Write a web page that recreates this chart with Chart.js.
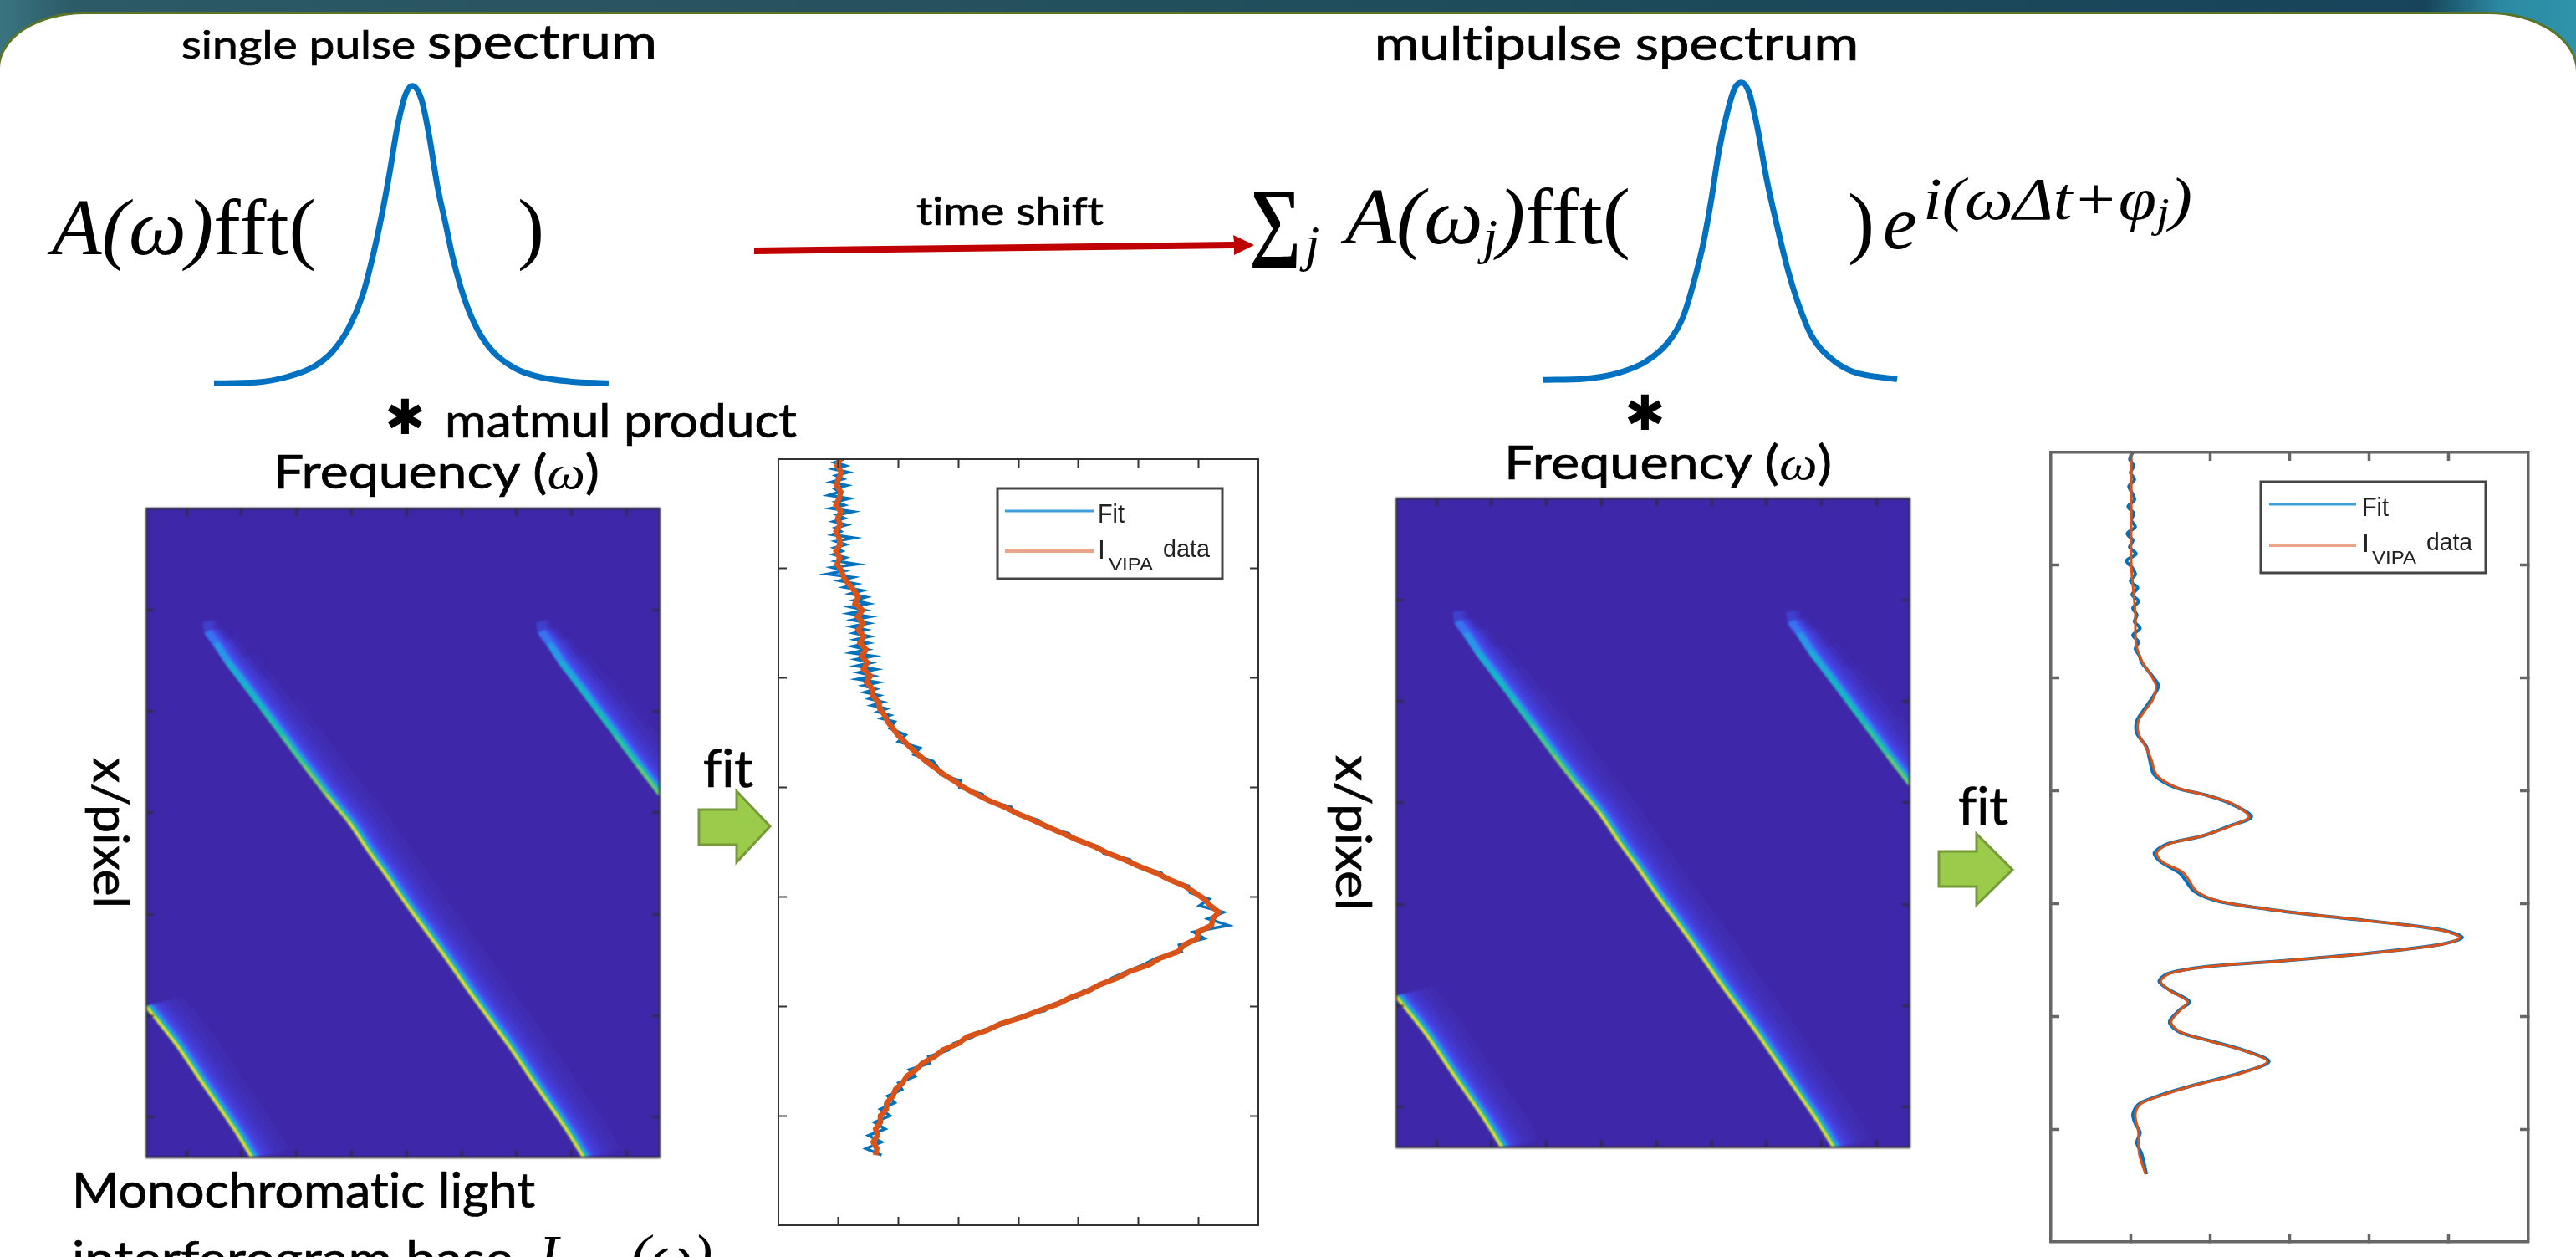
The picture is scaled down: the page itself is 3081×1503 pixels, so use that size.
<!DOCTYPE html>
<html>
<head>
<meta charset="utf-8">
<title>Single pulse and multipulse spectrum</title>
<script src="https://cdn.jsdelivr.net/npm/chart.js@4"></script>
<style>
    html, body { margin: 0; padding: 0; width: 3081px; height: 1503px; overflow: hidden; background: #fff; }
    #band { position: absolute; left: 0; top: 0; width: 3081px; height: 110px;
        background: linear-gradient(90deg, #3a7481 0, #2c5a66 90px, #28525e 900px, #1d4a5a 2000px, #17445a 2900px, #2b8aa2 2990px, #2f93aa 3081px); }
    #panel { position: absolute; left: -3px; top: 14px; width: 3081px; height: 1600px; background: #fff;
        border: 3px solid #5a7525; border-radius: 104px 108px 0 0 / 68px 72px 0 0; }
    canvas { position: absolute; }
    #heatLeft, #heatRight { filter: blur(0.9px); }
    #fitLeft, #fitRight { filter: blur(0.5px); }
    #slide { position: absolute; left: 0; top: 0; font-variant-ligatures: none; }
    .sans { font-family: Lato, "Open Sans", sans-serif; fill: #000; stroke: #000; stroke-width: 0.7px; }
    .math { font-family: "Liberation Serif", serif; font-style: italic; fill: #000; stroke: none; }
    .roman { font-style: normal; }
    .legend { font-family: "Liberation Sans", Arial, sans-serif; fill: #222; filter: blur(0.5px); }
</style>
</head>
<body>
<div id="band"></div>
<div id="panel"></div>

<canvas id="pulseLeft" width="490" height="377" style="left:246px;top:92px"></canvas>
<canvas id="pulseRight" width="490" height="377" style="left:1836px;top:88px"></canvas>
<canvas id="heatLeft" width="618" height="780" style="left:173px;top:606px"></canvas>
<canvas id="heatRight" width="618" height="780" style="left:1668px;top:594px"></canvas>
<canvas id="fitLeft" width="578" height="920" style="left:929px;top:547px"></canvas>
<canvas id="fitRight" width="575" height="948" style="left:2451px;top:539px"></canvas>

<svg id="slide" width="3081" height="1503" viewBox="0 0 3081 1503">
    <text class="sans" x="217" y="70" textLength="569" lengthAdjust="spacingAndGlyphs"><tspan font-size="46">single pulse </tspan><tspan font-size="56">spectrum</tspan></text>
    <text class="sans" x="1644" y="72" font-size="56" textLength="579" lengthAdjust="spacingAndGlyphs">multipulse spectrum</text>
    <text class="sans" x="1096" y="269" font-size="46" textLength="224" lengthAdjust="spacingAndGlyphs">time shift</text>

    <text class="math" x="62" y="304" font-size="96" textLength="316" lengthAdjust="spacingAndGlyphs">A(ω)<tspan class="roman">fft(</tspan></text>
    <text class="math roman" x="619" y="304" font-size="96">)</text>

    <text class="math roman" x="1494" y="298" font-size="104" textLength="62" lengthAdjust="spacingAndGlyphs" style="font-weight:bold">∑</text>
    <text class="math" x="1561" y="312" font-size="62">j</text>
    <text class="math" x="1609" y="291" font-size="96" textLength="341" lengthAdjust="spacingAndGlyphs">A(ω<tspan font-size="60" dy="12">j</tspan><tspan dy="-12">)</tspan><tspan class="roman">fft(</tspan></text>
    <text class="math roman" x="2210" y="297" font-size="96">)</text>
    <text class="math" x="2252" y="297" font-size="92">e</text>
    <text class="math" x="2300" y="262" font-size="72" textLength="322" lengthAdjust="spacingAndGlyphs">i(ωΔt+φ<tspan font-size="50" dy="9">j</tspan><tspan dy="-9">)</tspan></text>

    <path d="M902 296 L1476 289 L1475 281 L1500 293 L1476 305 L1476 297 L902 304 Z" fill="#c00000"/>

    <text x="460" y="519" font-family="DejaVu Sans" font-size="58" fill="#000">✱</text>
    <text class="sans" x="532" y="523" font-size="56" textLength="421" lengthAdjust="spacingAndGlyphs">matmul product</text>
    <text x="1943" y="514" font-family="DejaVu Sans" font-size="58" fill="#000">✱</text>

    <text class="sans" x="327" y="584" font-size="56" textLength="390" lengthAdjust="spacingAndGlyphs">Frequency (<tspan class="math">ω</tspan>)</text>
    <text class="sans" x="1799" y="573" font-size="56" textLength="392" lengthAdjust="spacingAndGlyphs">Frequency (<tspan class="math">ω</tspan>)</text>

    <text class="sans" font-size="58" textLength="180" lengthAdjust="spacingAndGlyphs" transform="translate(112 906) rotate(90)">x/pixel</text>
    <text class="sans" font-size="58" textLength="186" lengthAdjust="spacingAndGlyphs" transform="translate(1598 903) rotate(90)">x/pixel</text>

    <text class="sans" x="841" y="941" font-size="62" textLength="60" lengthAdjust="spacingAndGlyphs">fit</text>
    <text class="sans" x="2342" y="986" font-size="62" textLength="60" lengthAdjust="spacingAndGlyphs">fit</text>
    <path d="M836 968 L881 968 L881 946 L921 988 L881 1031 L881 1010 L836 1010 Z" fill="#9bcb4b" stroke="#76993a" stroke-width="3"/>
    <path d="M2319 1018 L2364 1018 L2364 997 L2407 1040 L2364 1082 L2364 1060 L2319 1060 Z" fill="#9bcb4b" stroke="#76993a" stroke-width="3"/>

    <text class="sans" x="86" y="1444" font-size="58" textLength="554" lengthAdjust="spacingAndGlyphs">Monochromatic light</text>
    <text class="sans" x="86" y="1526" font-size="58" textLength="528" lengthAdjust="spacingAndGlyphs">interferogram base</text>
    <text class="math" x="644" y="1526" font-size="72">I<tspan font-size="42" dy="12">VIPA</tspan><tspan dy="-12" font-size="72">(ω)</tspan></text>

    <rect x="1193" y="584" width="269" height="108" fill="#fff" stroke="#444" stroke-width="3"/>
    <line x1="1202" y1="611" x2="1308" y2="611" stroke="#3f9fdc" stroke-width="3"/>
    <line x1="1202" y1="659" x2="1308" y2="659" stroke="#eba58a" stroke-width="4"/>
    <text class="legend" x="1313" y="625" font-size="32" textLength="32" lengthAdjust="spacingAndGlyphs">Fit</text>
    <text class="legend" x="1313" y="668" font-size="32">I</text>
    <text class="legend" x="1326" y="682" font-size="22" textLength="53" lengthAdjust="spacingAndGlyphs">VIPA</text>
    <text class="legend" x="1391" y="666" font-size="30" textLength="56" lengthAdjust="spacingAndGlyphs">data</text>

    <rect x="2704" y="576" width="269" height="109" fill="#fff" stroke="#444" stroke-width="3"/>
    <line x1="2714" y1="603" x2="2818" y2="603" stroke="#3f9fdc" stroke-width="3"/>
    <line x1="2714" y1="652" x2="2818" y2="652" stroke="#eba58a" stroke-width="4"/>
    <text class="legend" x="2825" y="617" font-size="32" textLength="32" lengthAdjust="spacingAndGlyphs">Fit</text>
    <text class="legend" x="2825" y="660" font-size="32">I</text>
    <text class="legend" x="2837" y="674" font-size="22" textLength="53" lengthAdjust="spacingAndGlyphs">VIPA</text>
    <text class="legend" x="2902" y="658" font-size="30" textLength="55" lengthAdjust="spacingAndGlyphs">data</text>
</svg>

<script>
    // pulse shapes drawn above the brackets
    const pulseLeftX = [-2.37, -1.87, -1.49, -1.17, -0.94, -0.75, -0.59, -0.47, -0.37, -0.27, -0.18, -0.08, 0, 0.11, 0.2, 0.3, 0.4, 0.49, 0.62, 0.78, 0.97, 1.22, 1.51, 1.89, 2.35];
    const pulseLeftY = [0, 0.003, 0.022, 0.057, 0.111, 0.191, 0.299, 0.428, 0.557, 0.708, 0.858, 0.971, 1, 0.955, 0.837, 0.665, 0.535, 0.417, 0.288, 0.181, 0.105, 0.052, 0.022, 0.006, 0];
    const pulseRightX = [-2.37, -1.88, -1.47, -1.15, -0.88, -0.7, -0.56, -0.45, -0.36, -0.27, -0.16, -0.08, 0, 0.09, 0.19, 0.3, 0.41, 0.55, 0.68, 0.84, 1.07, 1.32, 1.86];
    const pulseRightY = [0, 0.004, 0.024, 0.061, 0.126, 0.212, 0.341, 0.47, 0.61, 0.772, 0.912, 0.982, 1, 0.966, 0.847, 0.675, 0.535, 0.374, 0.255, 0.147, 0.072, 0.029, 0.002];

    // interferogram streaks (x, row, brightness 0-1)
    const streakMainX = [130, 133, 149, 171, 202, 237, 273, 313, 354, 395, 434, 465, 501, 562, 623, 684, 729, 790, 822];
    const streakMainY = [111, 121, 133, 151, 173, 198, 224, 253, 282, 309, 340, 363, 391, 436, 483, 528, 564, 612, 640];
    const streakMainLevel = [0.02, 0.16, 0.28, 0.38, 0.46, 0.56, 0.66, 0.76, 0.86, 0.94, 1, 1, 1, 1, 1, 1, 1, 1, 1];
    const streakRightX = [736, 739, 755, 777, 808, 843, 879, 919, 960];
    const streakRightY = [111, 121, 133, 151, 173, 198, 224, 253, 282];
    const streakRightLevel = [0.02, 0.16, 0.28, 0.38, 0.46, 0.54, 0.62, 0.72, 0.8];
    const streakLowX = [27, 81, 126, 187, 219];
    const streakLowY = [491, 528, 564, 612, 640];
    const streakLowLevel = [1, 1, 1, 1, 1];
    const heatTicksX = [100, 200, 300, 400, 500, 600, 700, 800, 900];
    const heatTicksY = [100, 200, 300, 400, 500, 600];

    // single pulse fit
    const fitLeftRows = [0, 6, 12, 18, 24, 30, 36, 42, 48, 54, 60, 66, 72, 78, 84, 90, 96, 102, 108, 114, 120, 126, 132, 138, 144, 150, 156, 162, 168, 174, 180, 186, 192, 198, 204, 210, 216, 222, 228, 234, 240, 246, 252, 258, 264, 270, 276, 282, 288, 294, 300, 306, 312, 318, 324, 330, 336, 342, 348, 354, 360, 366, 372, 378, 384, 390, 396, 402, 408, 414, 420, 426, 432, 438, 444, 450, 456, 462, 468, 474, 480, 486, 492, 498, 504, 510, 516, 522, 528, 534, 540, 546, 552, 558, 564, 570, 576, 582, 588, 594, 600, 606, 612, 618, 624, 630, 636];
    const fitLeftData = [1.03, 0.98, 1.05, 1.0, 0.97, 1.04, 1.01, 0.96, 1.04, 0.99, 1.03, 0.96, 1.01, 1.03, 0.96, 1.02, 0.98, 1.05, 1.09, 1.17, 1.26, 1.33, 1.28, 1.4, 1.32, 1.41, 1.33, 1.42, 1.36, 1.46, 1.39, 1.48, 1.42, 1.53, 1.47, 1.57, 1.57, 1.67, 1.69, 1.77, 1.82, 1.91, 1.99, 2.1, 2.21, 2.33, 2.46, 2.61, 2.75, 2.93, 3.09, 3.29, 3.51, 3.78, 3.99, 4.25, 4.49, 4.74, 4.99, 5.27, 5.49, 5.77, 6.01, 6.29, 6.51, 6.77, 6.94, 7.1, 7.2, 7.34, 7.24, 7.22, 7.0, 6.98, 6.76, 6.66, 6.36, 6.18, 5.86, 5.65, 5.36, 5.16, 4.87, 4.65, 4.34, 4.06, 3.7, 3.47, 3.14, 3.0, 2.74, 2.6, 2.4, 2.29, 2.14, 2.07, 1.95, 1.91, 1.81, 1.8, 1.7, 1.7, 1.62, 1.65, 1.58, 1.64, 1.62];
    const fitLeftFitRows = [0, 3, 6, 9, 12, 15, 18, 21, 24, 27, 30, 33, 36, 39, 42, 45, 48, 51, 54, 57, 60, 63, 66, 69, 72, 75, 78, 81, 84, 87, 90, 93, 96, 99, 102, 105, 108, 111, 114, 117, 120, 123, 126, 129, 132, 135, 138, 141, 144, 147, 150, 153, 156, 159, 162, 165, 168, 171, 174, 177, 180, 183, 186, 189, 192, 195, 198, 201, 204, 207, 210, 213, 216, 219, 222, 225, 228, 231, 234, 237, 240, 246, 252, 258, 264, 270, 276, 282, 288, 294, 300, 306, 312, 318, 324, 330, 336, 342, 348, 354, 360, 366, 372, 378, 384, 390, 396, 402, 408, 414, 420, 426, 432, 438, 444, 450, 456, 462, 468, 474, 480, 486, 492, 498, 504, 510, 516, 522, 528, 534, 540, 546, 552, 558, 564, 570, 576, 582, 588, 594, 600, 606, 612, 618, 624, 630, 636];
    const fitLeftFit = [1.08, 0.94, 1.12, 0.92, 1.16, 0.96, 1.08, 0.88, 1.14, 0.94, 1.02, 0.84, 1.18, 0.96, 1.1, 0.88, 1.24, 0.98, 1.1, 0.92, 1.14, 0.95, 1.04, 0.9, 1.26, 0.96, 1.12, 0.93, 1.06, 0.92, 1.12, 0.96, 1.3, 0.9, 1.1, 0.82, 1.24, 1.02, 1.3, 1.1, 1.4, 1.2, 1.46, 1.26, 1.5, 1.2, 1.44, 1.18, 1.52, 1.24, 1.5, 1.22, 1.46, 1.26, 1.52, 1.28, 1.5, 1.24, 1.48, 1.22, 1.58, 1.3, 1.54, 1.3, 1.62, 1.34, 1.58, 1.32, 1.66, 1.42, 1.62, 1.44, 1.68, 1.52, 1.74, 1.56, 1.8, 1.66, 1.86, 1.72, 1.94, 1.86, 2.12, 2.0, 2.36, 2.26, 2.58, 2.66, 2.7, 3.04, 3.02, 3.4, 3.48, 3.88, 3.96, 4.34, 4.44, 4.84, 4.94, 5.34, 5.42, 5.86, 5.96, 6.38, 6.46, 6.84, 6.86, 7.18, 7.02, 7.42, 7.16, 7.5, 6.92, 7.1, 6.68, 6.72, 6.3, 6.08, 5.82, 5.56, 5.42, 5.08, 4.96, 4.58, 4.44, 3.98, 3.8, 3.4, 3.24, 2.92, 2.84, 2.5, 2.52, 2.18, 2.28, 2.0, 2.06, 1.82, 1.94, 1.7, 1.86, 1.6, 1.78, 1.5, 1.72, 1.46, 1.72];
    const fitLeftTicksX = [1, 2, 3, 4, 5, 6, 7];
    const fitTicksY = [100, 200, 300, 400, 500, 600];

    // multipulse fit
    const fitRightRows = [0, 54, 100, 142, 170, 186, 198, 207, 219, 228, 238, 249, 261, 272, 286, 297, 304, 311, 323, 331, 340, 347, 355, 363, 373, 389, 398, 405, 412, 419, 424, 430, 436, 444, 451, 456, 462, 469, 477, 487, 494, 505, 514, 522, 530, 540, 550, 561, 571, 578, 587, 603, 622, 640];
    const fitRightData = [1.01, 1.01, 1.01, 1.06, 1.07, 1.15, 1.26, 1.32, 1.28, 1.19, 1.1, 1.1, 1.19, 1.26, 1.33, 1.58, 1.95, 2.27, 2.49, 2.27, 1.9, 1.49, 1.33, 1.4, 1.67, 1.83, 2.13, 2.73, 3.56, 4.47, 4.93, 5.14, 4.93, 4.01, 2.87, 1.95, 1.49, 1.38, 1.49, 1.72, 1.63, 1.51, 1.63, 2.0, 2.41, 2.72, 2.41, 1.81, 1.35, 1.12, 1.06, 1.1, 1.11, 1.19];
    const fitRightFitRows = [0, 6, 12, 18, 24, 30, 36, 42, 48, 54, 60, 66, 72, 78, 84, 90, 96, 102, 108, 114, 120, 126, 132, 138, 144, 150, 156, 162, 168, 174, 180, 186, 198, 207, 219, 228, 238, 249, 261, 272, 286, 297, 304, 311, 323, 331, 340, 347, 355, 363, 373, 389, 398, 405, 412, 419, 424, 430, 436, 444, 451, 456, 462, 469, 477, 487, 494, 505, 514, 522, 530, 540, 550, 561, 571, 578, 587, 595, 603, 612, 622, 640];
    const fitRightFit = [1.03, 0.99, 1.04, 1.0, 1.05, 0.98, 1.02, 1.05, 0.97, 1.04, 1.01, 1.06, 0.96, 1.03, 0.99, 1.07, 0.95, 1.02, 1.06, 1.0, 1.09, 1.02, 1.1, 1.03, 1.08, 1.05, 1.12, 1.03, 1.1, 1.06, 1.11, 1.14, 1.27, 1.35, 1.26, 1.17, 1.08, 1.08, 1.2, 1.24, 1.3, 1.56, 1.96, 2.25, 2.52, 2.25, 1.91, 1.47, 1.3, 1.38, 1.62, 1.8, 2.11, 2.73, 3.55, 4.48, 4.95, 5.17, 4.91, 4.0, 2.86, 1.94, 1.47, 1.36, 1.5, 1.74, 1.62, 1.49, 1.62, 2.02, 2.42, 2.74, 2.39, 1.8, 1.33, 1.1, 1.03, 1.06, 1.12, 1.08, 1.14, 1.2];
    const fitRightTicksX = [1, 2, 3, 4, 5];

    const heatBg = '#3e27a8';
    // glow is drawn as stacked strokes, first one on top, each fading in with the streak level
    const heatLayers = [
        { width: 2.8, shift: 0, color: [246, 226, 40], from: 0.8, to: 0.97 },
        { width: 3.6, shift: 0, color: [150, 204, 80], from: 0.68, to: 0.85 },
        { width: 4.5, shift: 0, color: [64, 200, 144], from: 0.55, to: 0.72 },
        { width: 5.5, shift: 1, color: [20, 188, 184], from: 0.36, to: 0.56 },
        { width: 6.5, shift: 2, color: [31, 168, 220], from: 0.24, to: 0.44 },
        { width: 8, shift: 3, color: [47, 144, 236], from: 0.14, to: 0.36 },
        { width: 10, shift: 4, color: [58, 112, 245], from: 0.06, to: 0.3 },
        { width: 13, shift: 6, color: [68, 80, 236], from: 0, to: 0.26 },
        { width: 17, shift: 8.5, color: [68, 65, 222], from: 0, to: 0.3 },
        { width: 22, shift: 12, color: [67, 57, 208], from: 0.1, to: 0.4 },
        { width: 28, shift: 15.5, color: [66, 51, 194], from: 0.2, to: 0.5 },
        { width: 36, shift: 20.5, color: [65, 47, 184], from: 0.3, to: 0.6 },
        { width: 44, shift: 25.5, color: [64, 44, 176], from: 0.4, to: 0.7 }
    ];

    function toPoints(xs, ys) {
        return xs.map((x, i) => ({ x: x, y: ys[i] }));
    }

    const plotBg = {
        id: 'plotBg',
        beforeDraw(chart, args, opts) {
            if (!opts.color) return;
            const a = chart.chartArea;
            chart.ctx.fillStyle = opts.color;
            chart.ctx.fillRect(a.left, a.top, a.right - a.left, a.bottom - a.top);
        }
    };

    const glowShift = {
        id: 'glowShift',
        beforeDatasetDraw(chart, args) {
            const ds = chart.data.datasets[args.index];
            if (ds.shift === undefined) return;
            const a = chart.chartArea;
            chart.ctx.save();
            chart.ctx.beginPath();
            chart.ctx.rect(a.left, a.top, a.right - a.left, a.bottom - a.top);
            chart.ctx.clip();
            chart.ctx.translate(ds.shift, 0);
        },
        afterDatasetDraw(chart, args) {
            if (chart.data.datasets[args.index].shift !== undefined) chart.ctx.restore();
        }
    };

    // MATLAB style box: ticks inside on all four sides, no labels
    function boxScales(xMin, xMax, yMin, yMax, ticksX, ticksY, lineColor, lineWidth, tickLength) {
        const axis = (which, position, min, max, ticks, reverse) => ({
            type: 'linear',
            axis: which,
            position: position,
            min: min,
            max: max,
            reverse: reverse,
            afterBuildTicks: s => { s.ticks = ticks.map(v => ({ value: v })); },
            afterFit: s => { if (which === 'x') s.height = 0; else s.width = 0; },
            ticks: { display: false },
            border: { display: true, color: lineColor, width: lineWidth, z: 2 },
            grid: { drawOnChartArea: false, drawTicks: true, tickLength: -tickLength, color: lineColor, tickColor: lineColor, tickWidth: lineWidth, z: 2 }
        });
        return {
            x: axis('x', 'bottom', xMin, xMax, ticksX, false),
            xTop: axis('x', 'top', xMin, xMax, ticksX, false),
            y: axis('y', 'left', yMin, yMax, ticksY, true),
            yRight: axis('y', 'right', yMin, yMax, ticksY, true)
        };
    }

    function baseOptions(scales, padding, bg) {
        return {
            responsive: false,
            animation: false,
            devicePixelRatio: 1,
            events: [],
            layout: { padding: padding },
            plugins: { legend: { display: false }, tooltip: { enabled: false }, plotBg: { color: bg } },
            scales: scales
        };
    }

    function drawPulse(id, xs, ys) {
        new Chart(document.getElementById(id), {
            type: 'scatter',
            data: {
                datasets: [{
                    label: 'spectrum',
                    data: toPoints(xs, ys),
                    showLine: true,
                    borderColor: '#0070c0',
                    borderWidth: 7,
                    pointRadius: 0,
                    cubicInterpolationMode: 'monotone',
                    clip: false
                }]
            },
            options: baseOptions({
                x: { type: 'linear', display: false, min: -2.47, max: 2.43 },
                y: { type: 'linear', display: false, min: -0.03, max: 1.03 }
            }, 0)
        });
    }

    function streakDatasets(xs, ys, levels) {
        return heatLayers.map(layer => ({
            data: toPoints(xs, ys),
            showLine: true,
            pointRadius: 0,
            borderWidth: layer.width,
            borderColor: `rgb(${layer.color.join(',')})`,
            shift: layer.shift,
            tension: 0.3,
            clip: false,
            segment: {
                borderColor: c => {
                    const level = (levels[c.p0DataIndex] + levels[c.p1DataIndex]) / 2;
                    const t = Math.max(0, Math.min(1, (level - layer.from) / (layer.to - layer.from)));
                    return `rgba(${layer.color.join(',')},${t})`;
                }
            }
        }));
    }

    function drawHeat(id) {
        new Chart(document.getElementById(id), {
            type: 'scatter',
            plugins: [plotBg, glowShift],
            data: {
                datasets: [].concat(
                    streakDatasets(streakMainX, streakMainY, streakMainLevel),
                    streakDatasets(streakRightX, streakRightY, streakRightLevel),
                    streakDatasets(streakLowX, streakLowY, streakLowLevel)
                )
            },
            options: baseOptions(boxScales(27, 960, 0, 640, heatTicksX, heatTicksY, '#2b2b2b', 2, 9), 2, heatBg)
        });
    }

    function drawFit(id, cfg) {
        new Chart(document.getElementById(id), {
            type: 'scatter',
            data: {
                datasets: [
                    { label: 'I VIPA data', data: toPoints(cfg.dataX, cfg.dataY), showLine: true, pointRadius: 0, borderColor: '#d95319', borderWidth: cfg.dataWidth, tension: cfg.tension, order: 0 },
                    { label: 'Fit', data: toPoints(cfg.fitX, cfg.fitY), showLine: true, pointRadius: 0, borderColor: '#0072bd', borderWidth: cfg.fitWidth, tension: cfg.tension, order: 1 }
                ]
            },
            options: baseOptions(boxScales(0, cfg.xMax, 0, 700, cfg.ticksX, fitTicksY, cfg.line, cfg.lineWidth, 10), 2)
        });
    }

    drawPulse('pulseLeft', pulseLeftX, pulseLeftY);
    drawPulse('pulseRight', pulseRightX, pulseRightY);
    drawHeat('heatLeft');
    drawHeat('heatRight');
    drawFit('fitLeft', {
        dataX: fitLeftData, dataY: fitLeftRows, fitX: fitLeftFit, fitY: fitLeftFitRows,
        dataWidth: 6.5, fitWidth: 3.5, tension: 0, xMax: 8, ticksX: fitLeftTicksX, line: '#333', lineWidth: 2
    });
    drawFit('fitRight', {
        dataX: fitRightData, dataY: fitRightRows, fitX: fitRightFit, fitY: fitRightFitRows,
        dataWidth: 3, fitWidth: 4, tension: 0.3, xMax: 6, ticksX: fitRightTicksX, line: '#666', lineWidth: 3.5
    });
</script>
</body>
</html>
